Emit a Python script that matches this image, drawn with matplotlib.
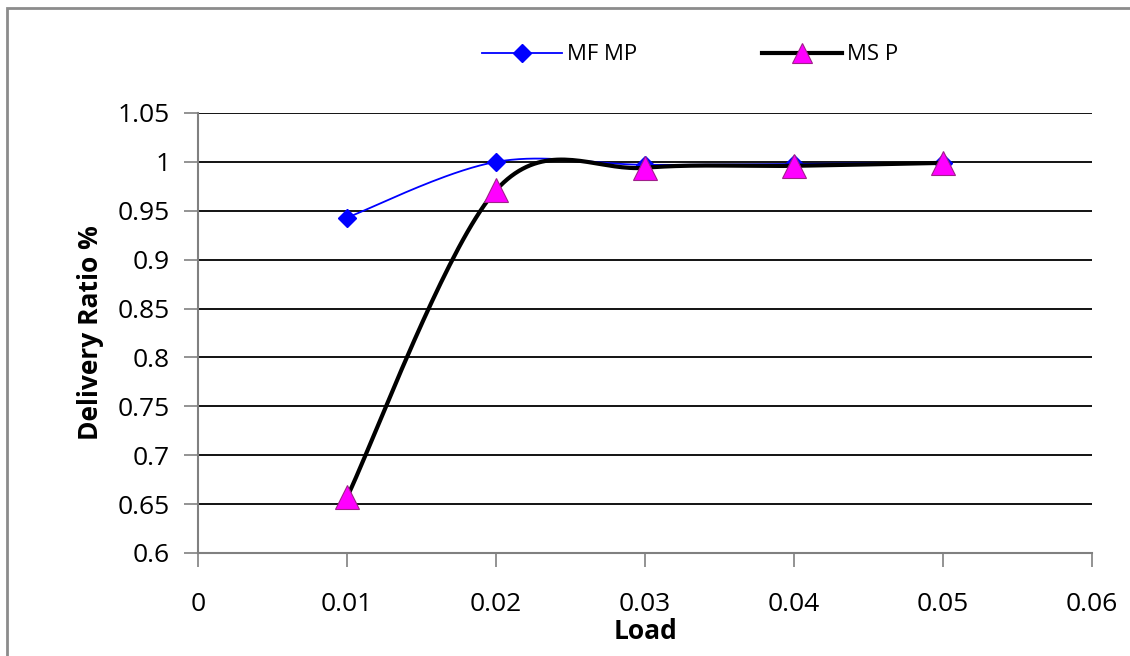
import numpy as np
import matplotlib
matplotlib.use("Agg")
import matplotlib.pyplot as plt
from matplotlib.patches import Rectangle

load = [0.01, 0.02, 0.03, 0.04, 0.05]
mfmp = [0.943, 1.0, 0.997, 0.998, 0.999]
msp = [0.657, 0.971, 0.994, 0.996, 0.999]
xticks = [0, 0.01, 0.02, 0.03, 0.04, 0.05, 0.06]
yticks = [0.6, 0.65, 0.7, 0.75, 0.8, 0.85, 0.9, 0.95, 1.0, 1.05]
ytick_labels = ["0.6", "0.65", "0.7", "0.75", "0.8", "0.85", "0.9", "0.95", "1", "1.05"]
xtick_labels = ["0", "0.01", "0.02", "0.03", "0.04", "0.05", "0.06"]

plt.rcParams["font.family"] = ["Open Sans", "DejaVu Sans"]


def catmull_rom(x, y, n=40):
    x = np.asarray(x, float)
    y = np.asarray(y, float)
    px = np.concatenate([[x[0]], x, [x[-1]]])
    py = np.concatenate([[y[0]], y, [y[-1]]])
    xs, ys = [], []
    t = np.linspace(0, 1, n)
    for i in range(1, len(px) - 2):
        p0x, p1x, p2x, p3x = px[i - 1:i + 3]
        p0y, p1y, p2y, p3y = py[i - 1:i + 3]
        c1x = p1x + (p2x - p0x) / 6
        c1y = p1y + (p2y - p0y) / 6
        c2x = p2x - (p3x - p1x) / 6
        c2y = p2y - (p3y - p1y) / 6
        bx = (1 - t) ** 3 * p1x + 3 * (1 - t) ** 2 * t * c1x + 3 * (1 - t) * t ** 2 * c2x + t ** 3 * p2x
        by = (1 - t) ** 3 * p1y + 3 * (1 - t) ** 2 * t * c1y + 3 * (1 - t) * t ** 2 * c2y + t ** 3 * p2y
        xs.append(bx)
        ys.append(by)
    return np.concatenate(xs), np.concatenate(ys)


fig = plt.figure(figsize=(11.3, 6.56), dpi=100)
ax = fig.add_axes([198 / 1130, 1 - 553 / 656, (1092 - 198) / 1130, (553 - 113) / 656])

# figure border (cropped at right/bottom)
fig.patches.append(Rectangle((7 / 1130, -0.1), 1.2, 1 - 8 / 656 + 0.1,
                             transform=fig.transFigure, fill=False,
                             edgecolor="#8c8c8c", linewidth=2.0))

for yv in yticks[1:]:
    ax.axhline(yv, color="black", linewidth=1.3, zorder=1)

mx, my = catmull_rom(load, mfmp)
ax.plot(mx, my, color="#0000ff", linewidth=1.3, zorder=2)
ax.plot(load, mfmp, linestyle="none", marker="D", markersize=9,
        color="#0000ff", zorder=3)
sx, sy = catmull_rom(load, msp)
ax.plot(sx, sy, color="black", linewidth=3.0, zorder=4)
ax.plot(load, msp, linestyle="none", marker="^", markersize=17,
        markerfacecolor="#ff00ff", markeredgecolor="#a0208a",
        markeredgewidth=0.8, zorder=5)

# legend proxies
ax.plot([], [], color="#0000ff", linewidth=1.3, marker="D", markersize=9, label="MF MP")
ax.plot([], [], color="black", linewidth=3.0, marker="^", markersize=15,
        markerfacecolor="#ff00ff", markeredgecolor="#a0208a", markeredgewidth=0.8,
        label="MS P")
h, l = ax.get_legend_handles_labels()
leg = fig.legend(h[-2:], l[-2:], loc="center", bbox_to_anchor=(690 / 1130, 1 - 55 / 656),
                 ncol=2, frameon=False, fontsize=16, handlelength=3.6,
                 columnspacing=5.6, handletextpad=0.25)

ax.set_xlim(0, 0.06)
ax.set_ylim(0.6, 1.05)
ax.set_xticks(xticks)
ax.set_xticklabels(xtick_labels)
ax.set_yticks(yticks)
ax.set_yticklabels(ytick_labels)
ax.tick_params(axis="both", labelsize=19, colors="#808080", labelcolor="black",
               length=10, width=1.2)
ax.tick_params(axis="x", pad=18)
ax.tick_params(axis="y", pad=10)
for side in ["top", "right"]:
    ax.spines[side].set_visible(False)
for side in ["left", "bottom"]:
    ax.spines[side].set_color("#808080")
    ax.spines[side].set_linewidth(1.5)

ax.set_ylabel("Delivery Ratio %", fontsize=19, fontweight="bold", labelpad=10)
ax.set_xlabel("Load", fontsize=19, fontweight="bold", labelpad=1)

fig.savefig("out.png", dpi=100)
